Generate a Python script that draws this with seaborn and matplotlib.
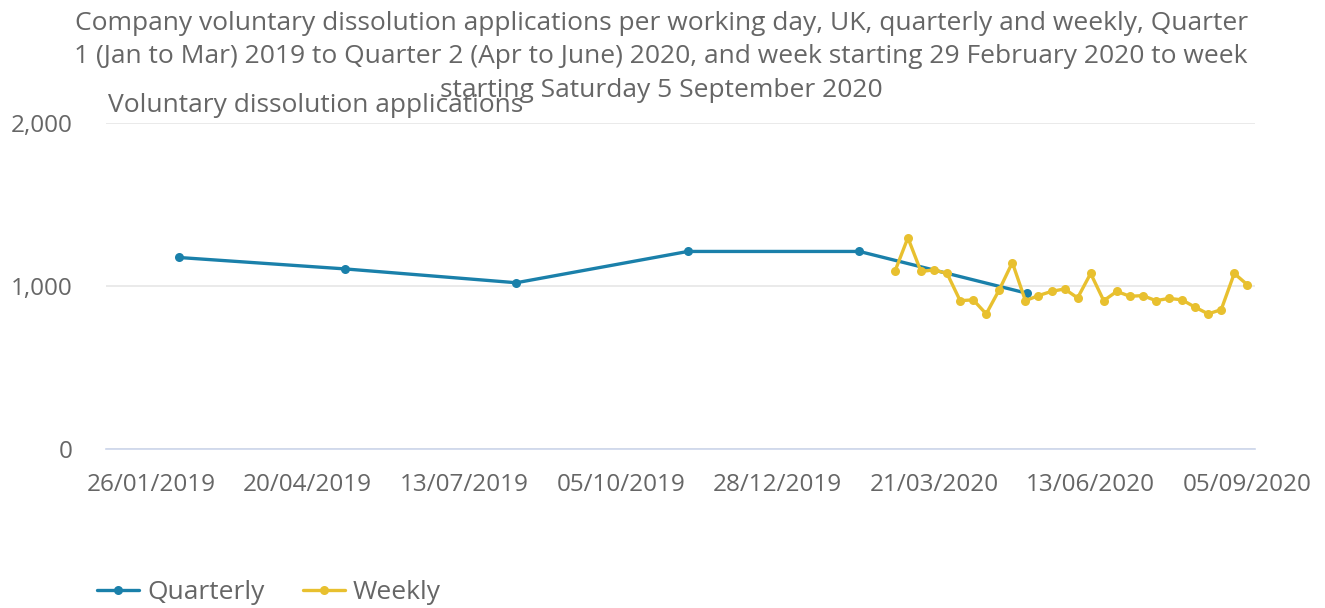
import pandas as pd
import numpy as np
import matplotlib
matplotlib.use('Agg')
import matplotlib.pyplot as plt
import matplotlib.dates as mdates
from matplotlib.ticker import FuncFormatter
import seaborn as sns

# Data
quarter_dates = ['2019-02-10', '2019-05-10', '2019-08-10', '2019-11-10', '2020-02-10', '2020-05-10']
quarterly_values = [1175, 1105, 1020, 1212, 1212, 955]

week_start = '2020-02-29'
weekly_values = [1089, 1296, 1089, 1099, 1077, 910, 915, 829, 977, 1144,
                 910, 941, 967, 982, 927, 1077, 910, 967, 937, 941,
                 910, 924, 915, 870, 829, 855, 1077, 1008]

tick_dates = ['2019-01-26', '2019-04-20', '2019-07-13', '2019-10-05',
              '2019-12-28', '2020-03-21', '2020-06-13', '2020-09-05']

blue = '#1a80aa'
yellow = '#e8c02f'
grey_text = '#666666'

quarterly = pd.DataFrame({'date': pd.to_datetime(quarter_dates), 'value': quarterly_values})
weekly = pd.DataFrame({'date': pd.date_range(week_start, periods=len(weekly_values), freq='7D'),
                       'value': weekly_values})

sns.set_theme(style='white')
plt.rcParams['font.family'] = ['Open Sans', 'DejaVu Sans']

fig = plt.figure(figsize=(13.25, 6.08), dpi=100)
ax = fig.add_axes([0.080, 0.2615, 0.867, 0.5362])

sns.lineplot(data=quarterly, x='date', y='value', ax=ax, color=blue, linewidth=2.4,
             marker='o', markersize=6.5, markeredgewidth=0, label='Quarterly')
sns.lineplot(data=weekly, x='date', y='value', ax=ax, color=yellow, linewidth=2.4,
             marker='o', markersize=6.5, markeredgewidth=0, label='Weekly')

ax.set_ylim(0, 2000)
ax.set_xlim(pd.Timestamp('2019-01-02'), pd.Timestamp('2020-09-09'))
ax.set_yticks([0, 1000, 2000])
ax.yaxis.set_major_formatter(FuncFormatter(lambda v, p: f'{int(v):,}'))
ax.set_xticks(pd.to_datetime(tick_dates))
ax.xaxis.set_major_formatter(mdates.DateFormatter('%d/%m/%Y'))

ax.grid(axis='y', color='#e6e6e6', linewidth=1.2)
ax.set_axisbelow(True)
for s in ['top', 'right', 'left']:
    ax.spines[s].set_visible(False)
ax.spines['bottom'].set_color('#ccd6eb')
ax.spines['bottom'].set_linewidth(1.2)

ax.tick_params(axis='x', length=14, width=1, color='#ccd6eb', direction='out',
               labelsize=17.5, labelcolor=grey_text, pad=3)
ax.tick_params(axis='y', length=0, labelsize=17.5, labelcolor=grey_text, pad=24)
ax.set_xlabel('')
ax.set_ylabel('')

fig.text(0.499, 0.982,
         'Company voluntary dissolution applications per working day, UK, quarterly and weekly, Quarter\n'
         '1 (Jan to Mar) 2019 to Quarter 2 (Apr to June) 2020, and week starting 29 February 2020 to week\n'
         'starting Saturday 5 September 2020',
         ha='center', va='top', fontsize=19, color=grey_text, linespacing=1.45)
fig.text(0.0815, 0.827, 'Voluntary dissolution applications', ha='left', va='center',
         fontsize=19, color=grey_text)

ax.legend_.remove()
handles, labels = ax.get_legend_handles_labels()
fig.legend(handles, labels, loc='center left', bbox_to_anchor=(0.0732, 0.025), ncol=2,
           frameon=False, fontsize=19, labelcolor=grey_text, handlelength=1.6,
           columnspacing=1.45, handletextpad=0.3, borderpad=0, borderaxespad=0)

fig.savefig('out.png', dpi=100)
